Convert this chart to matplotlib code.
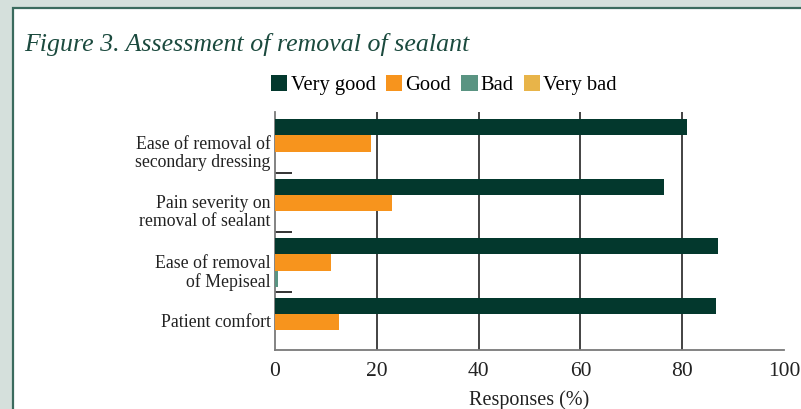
import numpy as np
import matplotlib.pyplot as plt
from matplotlib.patches import Rectangle

# Werte (%)
categories = ["Ease of removal of\nsecondary dressing",
              "Pain severity on\nremoval of sealant",
              "Ease of removal\nof Mepiseal",
              "Patient comfort"]
series = ["Very good", "Good", "Bad", "Very bad"]
very_good = [81.0, 76.5, 87.1, 86.7]
good = [18.9, 23.0, 11.0, 12.6]
bad = [0.0, 0.0, 0.5, 0.0]
very_bad = [0.0, 0.0, 0.0, 0.0]
colors = ["#03382d", "#f7941d", "#5a9482", "#e8b449"]

plt.rcParams["font.family"] = ["Liberation Serif", "DejaVu Serif"]

fig = plt.figure(figsize=(8.01, 4.09), dpi=100, facecolor="#d5e0dc")

# weisses Panel mit gruenem Rand
panel = Rectangle((13 / 801, -0.02), 1.0, 1 - 8 / 409 + 0.02,
                  transform=fig.transFigure, facecolor="white",
                  edgecolor="#3b6b5e", linewidth=1.6, zorder=-5)
fig.patches.append(panel)

fig.text(24 / 801, 1 - 45 / 409, "Figure 3. Assessment of removal of sealant",
         fontsize=18.6, style="italic", color="#1b4a3e", va="center", ha="left")

ax = fig.add_axes([275 / 801, 1 - 350 / 409, 509 / 801, 238 / 409])
ax.set_facecolor("none")

cat = np.arange(len(categories))
bar_h = 0.274
offsets = [0.255, 0.529, 0.803, 1.077]
data = [very_good, good, bad, very_bad]
for vals, off, c, name in zip(data, offsets, colors, series):
    ax.barh(cat + off, vals, height=bar_h, color=c, label=name, zorder=3)

ax.set_xlim(0, 100)
ax.set_ylim(4, 0)
ax.set_xticks([0, 20, 40, 60, 80, 100])
ax.tick_params(axis="x", length=0, pad=9, labelsize=15.5, colors="#222222")

# Beschriftungen und Trennstriche auf der y-Achse
ax.set_yticks([0.66, 1.65, 2.66, 3.5])
ax.set_yticklabels(categories, fontsize=12.8, linespacing=1.08, color="#222222")
ax.tick_params(axis="y", length=0, pad=3)
ax.set_yticks([1.03, 2.02, 3.02], minor=True)
ax.tick_params(axis="y", which="minor", direction="in", length=12, width=1.2,
               color="#111111")

ax.grid(axis="x", color="#222222", linewidth=1.2, zorder=1)
for gl in ax.get_xgridlines()[::5]:
    gl.set_visible(False)

for s in ["top", "right"]:
    ax.spines[s].set_visible(False)
ax.spines["left"].set_color("#7a7a7a")
ax.spines["bottom"].set_color("#7a7a7a")
ax.spines["left"].set_linewidth(1.3)
ax.spines["bottom"].set_linewidth(1.3)

ax.set_xlabel("Responses (%)", fontsize=14.5, color="#222222", labelpad=6)

fig.legend(loc="center left", bbox_to_anchor=(271 / 801, 1 - 85 / 409),
           ncol=4, frameon=False, fontsize=14.8, handlelength=0.8,
           handleheight=0.8, handletextpad=0.15, columnspacing=0.5,
           borderpad=0, borderaxespad=0)

fig.savefig("out.png", dpi=100, facecolor=fig.get_facecolor())
